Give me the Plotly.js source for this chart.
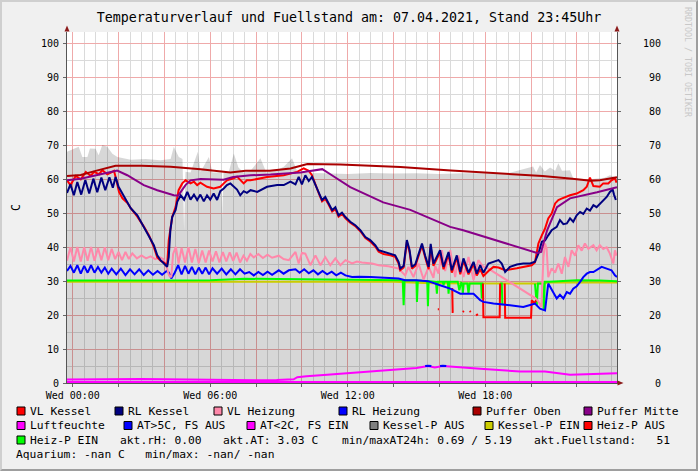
<!DOCTYPE html>
<html><head><meta charset="utf-8">
<script src="https://cdn.plot.ly/plotly-3.0.1.min.js"></script>
<style>
html,body{margin:0;padding:0;background:#f0f0f0;}
#wrap{position:relative;width:698px;height:471px;overflow:hidden;}
#chart{width:698px;height:471px;}
#frame{position:absolute;left:0;top:0;width:698px;height:471px;box-sizing:border-box;border:2px solid;border-color:#cfcfcf #9e9e9e #9e9e9e #cfcfcf;pointer-events:none;}
</style></head><body>
<div id="wrap"><div id="chart"></div><div id="frame"></div></div>
<script>
// ---------------- DATA (hours of the day, values in C) ----------------
const titleText = "Temperaturverlauf und Fuellstand am: 07.04.2021, Stand 23:45Uhr";
const xTickVals = [0,2,4,6,8,10,12,14,16,18,20,22];
const xTickText = ["Wed 00:00","","","Wed 06:00","","","Wed 12:00","","","Wed 18:00","",""];
const yTickVals = [0,10,20,30,40,50,60,70,80,90,100];

const grauT = [-0.25,-0.09,0.13,0.26,0.42,0.64,0.75,1.0,1.13,1.29,1.51,1.73,1.95,2.53,3.18,3.83,4.27,4.41,4.63,4.79,4.86,4.92,5.14,5.46,5.58,5.94,6.1,6.49,6.52,6.58,6.8,7.03,7.23,7.46,7.76,8.19,8.45,8.85,9.21,9.57,9.8,10.07,11.0,12.0,13.0,14.0,15.0,16.0,17.0,18.0,19.0,20.09,20.22,20.39,20.6,20.83,21.05,21.19,21.35,21.7,21.84,22.57,23.2,23.44,23.75];
const grauV = [68.1,68.5,69.1,69.6,66.6,66.6,69.1,69.0,67.1,70.1,69.6,67.5,66.6,65.8,66.0,65.6,66.0,69.6,66.6,66.0,45,62.2,62.0,68.1,62.2,66.6,62,62,48.5,62,62,67.6,63.5,62,62.5,66.2,62,62.5,63.7,66.2,62.3,61.9,61.8,61.6,61.9,61.7,61.8,61.6,61.8,61.7,61.8,63.8,62,64.2,62.3,63.5,62.5,64.7,62.5,62.7,60.3,60.0,60.5,61.2,60.5];

const pufferObenT = [-0.25,0.35,1.0,1.87,3.0,4.27,5.58,6.88,7.54,8.6,9.5,10.24,11.68,14.3,16.5,18.6,20.5,21.8,22.6,23.0,23.4,23.75];
const pufferObenV = [61.0,61.3,62.5,64.0,64.0,63.7,63.0,62.0,62.5,62.5,63.2,64.5,64.4,63.6,62.6,61.8,61.0,60.2,59.6,59.7,60.3,60.6];

const pufferMitteT = [-0.25,0.35,1.22,1.94,2.38,3.1,3.69,4.41,4.6,4.92,5.14,5.58,6.58,7.0,7.76,8.63,9.94,10.59,10.89,11.24,12.11,13.55,14.73,15.6,16.47,17.04,18.52,19.52,20.26,20.44,20.7,21.13,21.7,22.88,23.75];
const pufferMitteV = [59.7,60.2,61.5,62.6,61.2,58.3,56.8,55.3,55.2,58.3,59.7,60.1,59.9,60.7,61.2,61.4,62.0,62.7,63.0,61.5,57.7,53.2,51.0,48.5,46.0,45.0,42.0,40.0,38.3,38.6,45.0,51.8,54.4,56.2,57.7];

const vlKesselT = [-0.25,-0.1,0.13,0.35,0.57,0.78,0.93,1.15,1.29,1.51,1.73,1.8,1.87,1.95,2.02,2.17,2.39,2.53,2.82,3.11,3.33,3.54,3.69,3.83,3.98,4.12,4.19,4.34,4.49,4.62,4.78,4.92,5.14,5.29,5.43,5.57,5.86,6.15,6.44,6.59,6.73,7.02,7.17,7.46,7.6,7.76,8.48,9.21,9.79,10.08,10.3,10.44,10.59,10.73,10.88,11.02,11.17,11.32,11.46,11.6,11.75,11.9,12.11,12.33,12.55,12.77,12.98,13.2,13.35,13.56,13.86,14.07,14.22,14.29,14.44,14.58,14.7,14.8,14.95,15.09,15.24,15.38,15.53,15.62,15.74,16.03,16.18,16.4,16.54,16.76,16.91,17.05,17.27,17.49,17.63,17.78,17.92,18.14,18.36,18.58,18.87,19.38,20.03,20.17,20.32,20.47,20.61,20.75,20.9,21.05,21.19,21.33,21.48,21.7,21.99,22.28,22.43,22.57,22.72,23.0,23.15,23.37,23.51,23.66,23.73];
const vlKesselV = [59.7,58.3,61.0,60.0,62.2,61.0,62.2,61.5,62.7,61.5,62.2,62.5,60.7,58.5,56.3,54.4,53.0,51.5,49.0,46.0,43.5,40.0,37.0,36.0,35.5,34.7,42.0,48.9,51.9,56.8,58.8,59.7,58.8,59.3,58.3,59.0,57.8,57.3,57.8,58.8,59.7,60.3,60.8,58.8,59.7,59.7,60.7,61.2,62.2,63.2,62.5,61.2,58.8,56.0,53.5,54.3,52.5,50.5,51.2,49.0,49.8,48.5,47.2,46.2,44.7,42.7,41.7,40.2,38.7,38.0,37.6,37.2,35.2,33.2,34.0,41.5,38.5,33.7,34.5,37.5,40.5,37.0,33.5,40.1,34.5,38.5,33.5,38.0,32.5,37.0,32.0,36.0,32.0,35.0,31.7,33.5,31.5,33.0,34.2,34.0,33.2,33.8,34.7,35.5,41.1,43.5,45.5,48.5,49.9,52.9,53.9,54.3,54.8,55.3,55.8,56.8,57.8,60.5,58.0,57.8,58.8,58.8,59.7,60.3,59.0];

const rlKesselT = [-0.25,-0.1,0.05,0.2,0.37,0.55,0.72,0.9,1.07,1.25,1.42,1.6,1.75,1.87,2.0,2.09,2.24,2.39,2.53,2.82,3.11,3.33,3.54,3.69,3.83,3.98,4.12,4.19,4.26,4.34,4.49,4.56,4.71,4.86,5.0,5.14,5.29,5.43,5.57,5.72,5.86,6.0,6.15,6.3,6.44,6.59,6.73,6.88,7.02,7.17,7.31,7.46,7.6,7.76,8.05,8.48,8.92,9.21,9.5,9.72,9.86,10.0,10.15,10.3,10.44,10.59,10.73,10.88,11.02,11.17,11.32,11.46,11.6,11.75,11.9,12.11,12.33,12.55,12.77,12.98,13.2,13.35,13.56,13.86,14.07,14.22,14.29,14.44,14.58,14.7,14.8,14.95,15.09,15.24,15.38,15.53,15.62,15.74,16.03,16.18,16.4,16.54,16.76,16.91,17.05,17.27,17.49,17.63,17.78,17.92,18.14,18.36,18.58,18.72,18.87,19.08,19.38,19.66,19.96,20.17,20.32,20.47,20.61,20.75,20.9,21.12,21.26,21.41,21.56,21.7,21.84,21.99,22.14,22.28,22.43,22.57,22.72,22.86,23.0,23.15,23.3,23.44,23.56,23.62,23.7];
const rlKesselV = [56.0,58.5,55.3,59.2,55.5,59.8,55.8,60.2,56.2,60.5,56.8,60.6,57.5,60.7,57.8,56.8,54.8,53.4,51.5,49.4,46.0,43.0,40.6,37.6,36.2,35.2,34.2,37.1,45.0,48.9,51.0,53.4,55.3,54.0,56.3,54.0,55.5,53.9,55.5,53.5,55.3,54.0,55.8,53.9,56.5,57.3,58.3,58.8,57.8,57.0,55.3,56.5,56.0,56.8,56.3,57.8,58.3,58.3,59.3,58.5,60.7,58.5,61.2,59.5,60.7,58.3,56.3,53.9,54.8,52.9,50.9,51.8,49.4,50.2,48.9,47.5,46.5,45.0,43.0,42.1,40.6,39.1,38.6,38.1,37.6,35.7,33.7,34.5,42.1,39.1,34.2,35.0,38.0,41.1,37.5,34.2,41.0,35.2,39.1,34.2,38.6,33.2,37.6,32.7,36.7,32.5,35.7,32.2,34.7,32.5,35.2,35.7,36.2,35.2,32.7,34.2,34.9,35.2,35.2,35.7,38.1,41.6,42.0,43.5,45.0,46.0,48.0,46.8,47.0,48.5,47.5,49.4,50.4,49.8,51.4,50.8,52.4,51.8,52.8,53.9,54.8,56.3,57.0,55.5,53.9];

const vlHeizT = [-0.25,-0.1,0.05,0.2,0.35,0.5,0.65,0.8,0.95,1.1,1.25,1.4,1.55,1.7,1.85,2.0,2.15,2.3,2.45,2.6,2.8,3.0,3.2,3.4,3.6,3.8,3.95,4.1,4.2,4.3,4.38,4.5,4.62,4.75,4.9,5.05,5.2,5.35,5.5,5.65,5.8,5.95,6.1,6.25,6.4,6.55,6.7,6.85,7.0,7.15,7.3,7.45,7.6,7.75,7.9,8.1,8.3,8.5,8.7,8.99,9.2,9.43,9.72,9.86,10.0,10.15,10.37,10.59,10.81,11.02,11.24,11.46,11.68,11.9,12.19,12.4,12.62,13.06,13.35,13.78,14.22,14.51,14.65,14.87,15.09,15.31,15.53,15.74,15.82,15.96,16.11,16.25,16.47,16.69,16.83,17.05,17.27,17.49,17.7,17.92,18.14,20.18,20.3,20.45,20.54,20.61,20.68,20.75,20.9,21.05,21.19,21.34,21.48,21.63,21.77,21.92,22.06,22.21,22.35,22.5,22.72,22.86,23.0,23.15,23.3,23.44,23.59,23.66,23.73];
const vlHeizV = [36.0,40.0,35.8,40.1,35.8,40.0,36.0,40.1,36.0,39.8,36.2,40.0,36.2,39.5,36.5,38.6,36.2,38.6,36.5,38.2,36.7,37.6,36.7,37.3,36.5,37.0,36.5,34.2,31.7,31.2,38.0,40.1,35.2,39.8,35.5,40.0,35.5,39.5,35.3,39.0,35.5,39.0,35.8,38.8,35.5,38.6,35.8,38.5,36.0,38.4,35.5,37.5,36.0,38.0,37.0,38.0,36.8,37.8,36.9,37.5,36.5,36.2,38.6,35.2,38.3,38.1,34.7,37.6,34.7,37.1,34.7,36.7,34.7,36.2,35.2,35.8,35.5,35.2,34.7,34.4,33.7,31.7,34.2,31.2,35.2,30.5,34.2,31.0,34.5,32.2,39.1,33.0,39.1,31.2,37.6,31.2,37.1,30.3,36.2,34.2,33.7,25.0,24.2,22.4,37.1,41.1,39.5,31.2,33.8,32.5,35.2,32.2,37.1,34.2,39.1,37.5,40.6,39.0,41.1,39.5,40.6,39.1,40.6,39.5,40.0,38.1,35.2,39.1,37.5];

const rlHeizT = [-0.25,-0.1,0.05,0.2,0.35,0.5,0.65,0.8,0.95,1.1,1.25,1.4,1.55,1.7,1.9,2.1,2.3,2.5,2.7,2.9,3.1,3.3,3.5,3.7,3.9,4.1,4.2,4.3,4.45,4.6,4.75,4.9,5.05,5.2,5.35,5.5,5.65,5.8,5.95,6.1,6.3,6.5,6.7,6.9,7.1,7.3,7.5,7.7,7.9,8.1,8.3,8.5,8.7,8.99,9.2,9.43,9.72,9.9,10.1,10.3,10.5,10.7,10.9,11.1,11.3,11.5,11.7,11.9,12.19,12.5,13.0,13.5,14.0,14.22,14.5,15.0,15.5,15.6,16.03,16.47,16.91,17.49,17.78,17.92,18.36,19.08,19.66,19.96,20.17,20.39,20.61,20.75,20.98,21.12,21.26,21.41,21.56,21.7,21.84,21.99,22.14,22.28,22.43,22.57,22.72,22.86,23.08,23.3,23.51,23.66,23.75];
const rlHeizV = [33.0,34.5,32.5,34.7,32.2,34.5,32.5,34.7,32.5,34.2,32.5,34.0,32.2,33.7,32.0,33.7,31.8,33.5,32.0,33.5,31.8,33.2,31.9,33.0,31.9,33.0,32.5,30.8,32.5,34.7,32.0,34.5,32.2,34.2,32.0,34.0,32.2,34.0,32.0,33.8,32.2,33.7,32.0,33.5,32.0,33.5,32.2,32.7,31.7,32.7,31.8,32.8,31.9,33.2,32.2,33.2,33.5,32.5,33.5,32.3,33.2,32.0,33.0,32.0,32.8,31.7,32.5,31.7,31.2,31.3,31.2,31.0,31.0,30.8,30.3,30.3,30.0,29.8,28.8,27.8,26.3,26.3,24.4,23.9,23.4,22.9,22.4,23.0,23.4,21.9,21.4,29.3,26.3,24.9,26.0,24.9,26.8,26.3,27.8,28.5,29.8,31.2,32.2,32.7,32.7,33.2,34.2,33.7,33.2,31.7,31.2];

const kesselEinT = [-0.25,7.0,14.0,15.6,18.0,20.6,20.7,23.75];
const kesselEinV = [29.8,29.8,29.8,29.4,29.3,29.3,29.6,29.6];

const heizEinT = [-0.25,2,4,6,7.5,10,14.0,14.4,14.44,14.48,15.0,15.02,15.06,15.47,15.5,15.53,15.85,15.89,15.93,16.15,16.18,16.22,16.37,16.4,16.44,16.8,16.87,16.95,17.0,17.02,17.06,17.22,17.27,17.32,17.82,17.85,17.89,17.92,18.3,18.65,18.72,18.75,19.5,20.17,20.25,20.3,20.5,20.56,20.6,20.8,21.5,22.0,23.0,23.75];
const heizEinV = [30.2,30.3,30.2,30.3,30.7,30.5,30.3,30.3,22.9,30.3,30.2,23.9,30.2,30.0,22.6,30.0,29.8,26.3,29.8,29.8,28.8,29.8,29.8,26.3,29.8,29.8,27.3,29.5,29.3,26.3,29.3,29.3,26.3,29.3,29.3,24.9,29.3,29.3,null,29.3,29.3,22.9,null,29.3,23.0,29.3,29.3,21.5,29.8,29.8,30.0,30.3,30.2,30.0];

const heizAusT = [15.93,15.98,16.2,16.56,16.58,16.62,16.8,17.02,17.07,17.2,17.32,17.37,17.5,17.6,17.68,17.8,17.9,17.92,18.63,18.65,18.76,18.85,18.87,20.0,20.03,20.15,20.22];
const heizAusV = [21.7,21.7,null,28.0,20.9,20.9,null,20.9,21.2,null,21.2,20.9,null,19.9,20.3,null,29.3,19.4,19.4,29.3,null,29.3,19.2,19.2,24.4,23.5,24.4];

const atT = [-0.25,1,2,3,4,5,6,7,8,8.9,9.64,9.8,10.2,11.1,11.68,12.98,14.29,15.0,15.5,15.8,16.15,17.0,17.78,19.52,20.61,21.7,22.5,23.0,23.75];
const atV = [1.0,1.1,1.1,1.2,1.1,1.0,1.0,0.8,0.8,0.9,1.1,1.7,2.0,2.4,2.7,3.2,4.0,4.4,5.0,4.6,5.0,4.5,4.2,3.4,3.4,2.4,2.6,2.9,2.9];
const atHighT = [15.38,15.5,15.65,15.8,16.03,16.15,16.3];
const atHighV = [5.0,5.1,5.0,null,5.0,5.1,5.0];

const luftT = [-0.25,23.75];
const luftV = [0.0,0.0];

const legendRow1 = ["VL Kessel","RL Kessel","VL Heizung","RL Heizung","Puffer Oben","Puffer Mitte"];
const legendRow2 = ["Luftfeuchte","AT>5C, FS AUS","AT<2C, FS EIN","Kessel-P AUS","Kessel-P EIN","Heiz-P AUS"];
const legendRow3 = ["Heiz-P EIN"];
const infoRow3 = ["akt.rH: 0.00","akt.AT: 3.03 C","min/maxAT24h: 0.69 / 5.19","akt.Fuellstand:   51"];
const infoRow4 = ["Aquarium: -nan C   min/max: -nan/ -nan"];

// ---------------- STYLE ----------------
const MONO = "DejaVu Sans Mono, monospace";
const C = {
  vlKessel:'#ff0000', rlKessel:'#000080', vlHeiz:'#ff88aa', rlHeiz:'#0000ff',
  pOben:'#aa0000', pMitte:'#880088', luft:'#ff00ff', atHigh:'#0000ff', atLow:'#ff00ff',
  kAus:'#808080', kEin:'#cccc00', hAus:'#ff0000', hEin:'#00ff00'
};
function ln(t, v, color, w, extra) {
  return Object.assign({x:t, y:v, type:'scatter', mode:'lines', line:{color:color, width:w},
    hoverinfo:'skip', showlegend:false, connectgaps:false}, extra||{});
}
const traces = [
  ln(grauT, grauV, 'rgba(0,0,0,0)', 0, {fill:'tozeroy', fillcolor:'rgba(0,0,0,0.155)'}),
  ln(kesselEinT, kesselEinV, C.kEin, 2),
  ln(heizEinT, heizEinV, C.hEin, 2),
  ln(heizAusT, heizAusV, C.hAus, 2),
  ln(rlHeizT, rlHeizV, C.rlHeiz, 2),
  ln(vlHeizT, vlHeizV, C.vlHeiz, 2),
  ln(vlKesselT, vlKesselV, C.vlKessel, 2),
  ln(rlKesselT, rlKesselV, C.rlKessel, 2),
  ln(pufferObenT, pufferObenV, C.pOben, 2),
  ln(pufferMitteT, pufferMitteV, C.pMitte, 2),
  ln(atT, atV, C.atLow, 2),
  ln(atHighT, atHighV, C.atHigh, 2),
  ln(luftT, luftV, C.luft, 4, {yaxis:'y2'})
];

const L = 67, R = 617, T = 32, B = 383;
const X = px => (px - L) / (R - L);
const Y = py => (B - py) / (B - T);
const P = (px, py) => X(px).toFixed(5) + ',' + Y(py).toFixed(5);
const ARROW = '#8b1a1a';
const shapes = [
  {type:'path', xref:'paper', yref:'paper', path:'M'+P(67,25.5)+' L'+P(64.5,31.5)+' L'+P(69.5,31.5)+' Z', fillcolor:ARROW, line:{width:0}},
  {type:'path', xref:'paper', yref:'paper', path:'M'+P(617,25.5)+' L'+P(614.5,31.5)+' L'+P(619.5,31.5)+' Z', fillcolor:ARROW, line:{width:0}},
  {type:'line', xref:'paper', yref:'paper', x0:X(617), x1:X(619), y0:Y(383), y1:Y(383), line:{color:'#555', width:1}},
  {type:'path', xref:'paper', yref:'paper', path:'M'+P(623.5,383)+' L'+P(617.5,380.5)+' L'+P(617.5,385.5)+' Z', fillcolor:ARROW, line:{width:0}}
];
const annotations = [];
const NB = s => s.replace(/ /g, '\u00a0');
function item(bx, tx, py, name, color) {
  if (color) shapes.push({type:'rect', xref:'paper', yref:'paper', x0:X(bx), x1:X(bx+8), y0:Y(py+4), y1:Y(py-4), fillcolor:color, line:{color:'#000', width:1}});
  annotations.push({xref:'paper', yref:'paper', x:X(tx), y:Y(py), xanchor:'left', yanchor:'middle', showarrow:false, borderpad:0,
    text:NB(name), font:{family:MONO, size:11.3, color:'#000'}});
}
const r1b = [17,115,214,339,473,584], r1c = [C.vlKessel,C.rlKessel,C.vlHeiz,C.rlHeiz,C.pOben,C.pMitte];
legendRow1.forEach((n,i) => item(r1b[i], r1b[i]+12, 411, n, r1c[i]));
const r2b = [17,124,247,370,485,584], r2c = [C.luft,C.atHigh,C.atLow,C.kAus,C.kEin,C.hAus];
legendRow2.forEach((n,i) => item(r2b[i], r2b[i]+12, 425.5, n, r2c[i]));
item(17, 29, 440, legendRow3[0], C.hEin);
const r3x = [119,222,341,533];
infoRow3.forEach((n,i) => item(0, r3x[i], 440, n, null));
item(0, 15, 454, infoRow4[0], null);
annotations.push({xref:'paper', yref:'paper', x:X(688), y:Y(62), xanchor:'center', yanchor:'middle', showarrow:false,
  text:'RRDTOOL / TOBI OETIKER', textangle:90, font:{family:MONO, size:8.3, color:'#c8c8c8'}});

const yRightText = yTickVals.map(v => String(v).padStart(3, '\u00a0'));
const axisCommon = {zeroline:false, showline:true, linecolor:'#555', linewidth:1, ticks:'outside', ticklen:3, tickcolor:'#666',
  tickfont:{family:MONO, size:10, color:'#000'}, fixedrange:true, layer:'above traces'};
const layout = {
  width:698, height:471,
  margin:{l:67, r:81, t:32, b:88, pad:0},
  paper_bgcolor:'#f0f0f0', plot_bgcolor:'#ffffff',
  showlegend:false,
  font:{family:MONO, size:10, color:'#000'},
  title:{text:titleText, x:0.5, xref:'container', xanchor:'center', y:1-17/471, yref:'container', yanchor:'middle',
    font:{family:MONO, size:13.3, color:'#000'}},
  xaxis:Object.assign({}, axisCommon, {range:[-0.25,23.75], tickmode:'array', tickvals:xTickVals, ticktext:xTickText,
    showgrid:true, gridcolor:'#efaaaa', gridwidth:1,
    minor:{tickmode:'linear', tick0:0, dtick:0.5, showgrid:true, gridcolor:'#dadada', gridwidth:1}}),
  yaxis:Object.assign({}, axisCommon, {range:[0,103.4], tickmode:'array', tickvals:yTickVals,
    showgrid:true, gridcolor:'#efaaaa', gridwidth:1, ticklabelstandoff:2,
    minor:{tickmode:'linear', tick0:0, dtick:5, showgrid:true, gridcolor:'#dadada', gridwidth:1},
    title:{text:'C', font:{family:MONO, size:11.5, color:'#000'}, standoff:17}}),
  yaxis2:Object.assign({}, axisCommon, {overlaying:'y', side:'right', range:[0,103.4], tickmode:'array',
    tickvals:yTickVals, ticktext:yRightText, showgrid:false, ticklabelstandoff:20}),
  shapes:shapes, annotations:annotations
};
Plotly.newPlot('chart', traces, layout, {staticPlot:true, displayModeBar:false});
</script></body></html>
